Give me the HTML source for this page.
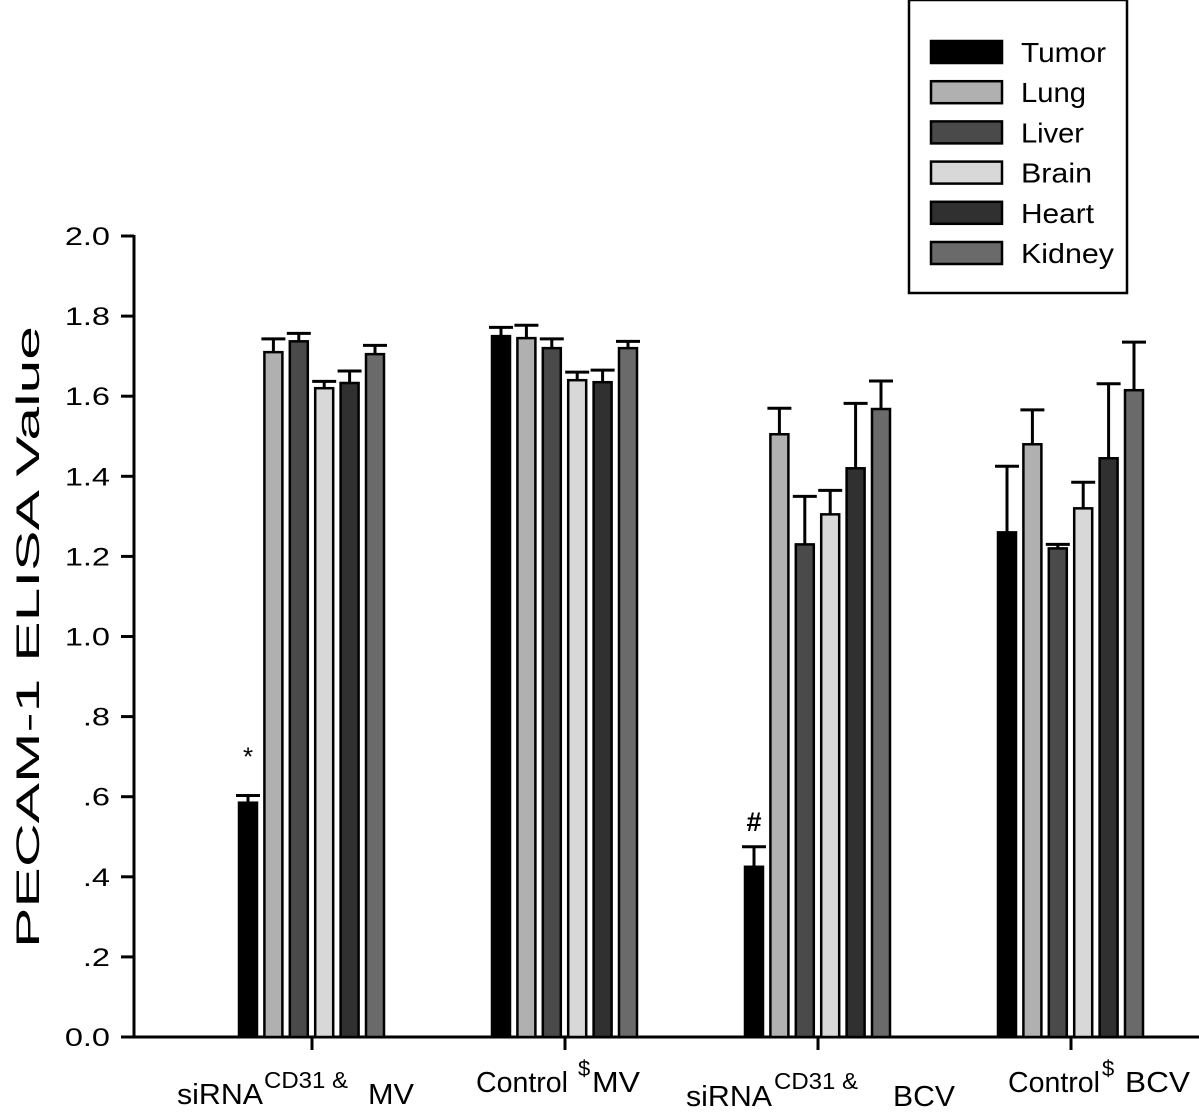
<!DOCTYPE html>
<html><head><meta charset="utf-8"><style>
html,body{margin:0;padding:0;background:#fff;}
svg{display:block;font-family:"Liberation Sans",Arial,sans-serif;}
</style></head><body>
<svg id="chart" width="1199" height="1119" viewBox="0 0 1199 1119" xmlns="http://www.w3.org/2000/svg">
<g id="axes"></g>
<g id="xlabels">
  <text x="177" y="1104" font-size="29" textLength="86" lengthAdjust="spacingAndGlyphs">siRNA</text>
  <text x="264" y="1088" font-size="23" textLength="84" lengthAdjust="spacingAndGlyphs">CD31 &amp;</text>
  <text x="368" y="1104" font-size="29" textLength="46" lengthAdjust="spacingAndGlyphs">MV</text>
  <text x="476" y="1092" font-size="29" textLength="92" lengthAdjust="spacingAndGlyphs">Control</text>
  <text x="578" y="1076" font-size="22">$</text>
  <text x="592" y="1092" font-size="29" textLength="48" lengthAdjust="spacingAndGlyphs">MV</text>
  <text x="686" y="1106" font-size="29" textLength="86" lengthAdjust="spacingAndGlyphs">siRNA</text>
  <text x="774" y="1089" font-size="23" textLength="84" lengthAdjust="spacingAndGlyphs">CD31 &amp;</text>
  <text x="893" y="1106" font-size="29" textLength="62" lengthAdjust="spacingAndGlyphs">BCV</text>
  <text x="1008" y="1092" font-size="29" textLength="92" lengthAdjust="spacingAndGlyphs">Control</text>
  <text x="1102" y="1076" font-size="22">$</text>
  <text x="1125" y="1092" font-size="29" textLength="65" lengthAdjust="spacingAndGlyphs">BCV</text>
</g>
<g id="bars"></g>
<g id="legend"></g>
</svg>
<script>
const groups = ["siRNA CD31 & MV","Control $MV","siRNA CD31 & BCV","Control$ BCV"];
const series = ["Tumor","Lung","Liver","Brain","Heart","Kidney"];
const tumorVals  = [0.585,1.75,0.425,1.26];
const tumorErr   = [0.018,0.022,0.05,0.165];
const lungVals   = [1.71,1.745,1.505,1.48];
const lungErr    = [0.033,0.032,0.065,0.086];
const liverVals  = [1.737,1.72,1.23,1.22];
const liverErr   = [0.02,0.023,0.12,0.01];
const brainVals  = [1.62,1.64,1.305,1.32];
const brainErr   = [0.017,0.02,0.06,0.065];
const heartVals  = [1.633,1.635,1.42,1.445];
const heartErr   = [0.03,0.03,0.162,0.186];
const kidneyVals = [1.705,1.72,1.568,1.615];
const kidneyErr  = [0.022,0.017,0.07,0.12];
const yTicks = [0,0.2,0.4,0.6,0.8,1.0,1.2,1.4,1.6,1.8,2.0];
const yTickLabels = ["0.0",".2",".4",".6",".8","1.0","1.2","1.4","1.6","1.8","2.0"];

const vals=[tumorVals,lungVals,liverVals,brainVals,heartVals,kidneyVals];
const errs=[tumorErr,lungErr,liverErr,brainErr,heartErr,kidneyErr];
const colors=["#000","#b0b0b0","#4a4a4a","#d8d8d8","#303030","#6a6a6a"];
const legendWidths=[85,65,63,71,73,93];
const NS="http://www.w3.org/2000/svg";
const y0=1037, pxPerUnit=400.5;
function y(v){return y0-v*pxPerUnit;}
function gx(i){return 312+i*253;}
function bx(i,s){return gx(i)-73+s*25.4;}
const BW=18;
function mk(tag,attrs,parent,text){const e=document.createElementNS(NS,tag);for(const k in attrs)e.setAttribute(k,attrs[k]);if(text!==undefined)e.textContent=text;parent.appendChild(e);return e;}
const axes=document.getElementById('axes');
let e=mk('line',{x1:134,y1:y(2)-1,x2:134,y2:y0+1,stroke:'#000','stroke-width':3},axes);


e=mk('line',{x1:133,y1:y0,x2:1199,y2:y0,stroke:'#000','stroke-width':3},axes);


yTicks.forEach((t,i)=>{
  let l=mk('line',{x1:121,y1:y(t),x2:134,y2:y(t),stroke:'#000','stroke-width':3},axes);
  
  
  let tx=mk('text',{x:110,y:y(t)+9,'text-anchor':'end','font-size':25,transform:'translate(110,0) scale(1.3,1) translate(-110,0)'},axes,yTickLabels[i]);
  
  
});
e=mk('text',{x:0,y:0,'text-anchor':'middle','font-size':32,textLength:622,lengthAdjust:'spacingAndGlyphs',transform:'translate(39,637) rotate(-90)'},axes,'PECAM-1 ELISA  Value');


groups.forEach((g,i)=>{
  let l=mk('line',{x1:gx(i),y1:y0,x2:gx(i),y2:y0+13,stroke:'#000','stroke-width':3},axes);
  
  
});
const bars=document.getElementById('bars');
series.forEach((s,si)=>{
  groups.forEach((g,gi)=>{
    const v=vals[si][gi], er=errs[si][gi], x=bx(gi,si), xc=x+BW/2;
    let ln=mk('line',{x1:xc,y1:y(v),x2:xc,y2:y(v+er),stroke:'#000','stroke-width':3},bars);
    
    
    let cp=mk('line',{x1:xc-12,y1:y(v+er),x2:xc+12,y2:y(v+er),stroke:'#000','stroke-width':3},bars);
    
    
    let r=mk('rect',{x:x,y:y(v),width:BW,height:y0-y(v),fill:colors[si],stroke:'#000','stroke-width':2.5},bars);
    
    
  });
});
e=mk('text',{x:bx(0,0)+BW/2,y:y(tumorVals[0]+tumorErr[0])-30,'text-anchor':'middle','font-size':26},bars,'*');


e=mk('text',{x:bx(2,0)+BW/2,y:y(tumorVals[2]+tumorErr[2])-16,'text-anchor':'middle','font-size':27,'font-weight':'bold'},bars,'#');


const leg=document.getElementById('legend');
e=mk('rect',{x:909,y:0,width:218,height:293,fill:'#fff',stroke:'#000','stroke-width':2.5},leg);


series.forEach((s,i)=>{
  const cy=52+i*40.2;
  let r=mk('rect',{x:931,y:cy-11,width:71,height:22,fill:colors[i],stroke:'#000','stroke-width':2.5},leg);
  
  
  let t=mk('text',{x:1021,y:cy+10,'font-size':28,textLength:legendWidths[i],lengthAdjust:'spacingAndGlyphs'},leg,s);
  
  
});
</script>
</body></html>
